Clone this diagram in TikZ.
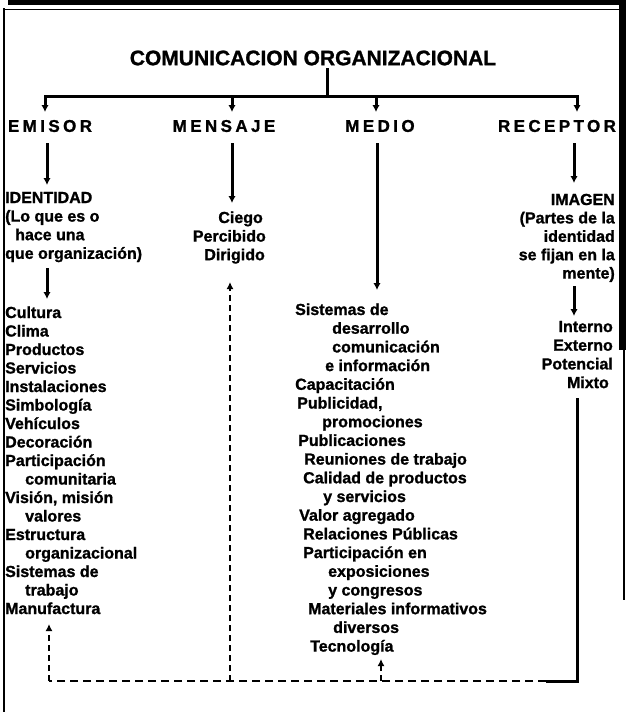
\documentclass[tikz,border=0pt]{standalone}
\usepackage{fontspec}
\setmainfont{Liberation Sans}[BoldFeatures={FakeBold=1.2}]
\usetikzlibrary{arrows.meta}
\begin{document}
\begin{tikzpicture}[x=1pt,y=-1pt,
  txt/.style={inner sep=0pt,font=\fontsize{16}{18.5}\selectfont\bfseries},
  lab/.style={inner sep=0pt,font=\fontsize{17}{18}\selectfont\bfseries\addfontfeature{LetterSpace=20}},
  ttl/.style={inner sep=0pt,font=\fontsize{21}{24}\selectfont\bfseries},
  ln/.style={line width=3pt},
  arr/.style={ln,-{Latex[length=7pt,width=7.5pt]}},
  dsh/.style={line width=2pt,dash pattern=on 8pt off 5pt},
  vdsh/.style={line width=1.4pt,dash pattern=on 6pt off 4pt,-{Latex[length=7pt,width=7pt]}}]
\useasboundingbox (0,0) rectangle (626,712);
% frame
\fill (8,0) rectangle (626,5);
\draw[line width=1pt] (4,9) -- (619,9);
\draw[line width=1.8pt] (4,8) -- (4,712);
\fill (619,0) rectangle (626,350);
\draw[line width=1.5pt] (624,350) -- (624,600);
% title
\node[ttl] (title) at (313,58) {COMUNICACION ORGANIZACIONAL};
\coordinate (stemT) at (327,68);
\coordinate (stemB) at (327,96);
\coordinate (bL) at (45,96);
\coordinate (bR) at (577,96);
\coordinate (bM1) at (232,96);
\coordinate (bM2) at (376,96);
\draw[ln] (stemT) -- (stemB);
\draw[ln,line cap=rect] (bL) -- (bR);
% labels
\node[lab] (emisor) at (50,126) {EMISOR};
\node[lab] (mensaje) at (224,126) {MENSAJE};
\node[lab] (medio) at (380,126) {MEDIO};
\node[lab] (receptor) at (557,126) {RECEPTOR};
\coordinate (tE) at (45,112);
\coordinate (tM1) at (232,112);
\coordinate (tM2) at (376,112);
\coordinate (tR) at (577,112);
\draw[arr] (bL) -- (tE);
\draw[arr] (bM1) -- (tM1);
\draw[arr] (bM2) -- (tM2);
\draw[arr] (bR) -- (tR);
% EMISOR column
\foreach \x/\t [count=\i from 0] in {5/IDENTIDAD,5/{(Lo que es o},15/{hace una},5/{que organización)}}
  \node[txt,anchor=base west] (id\i) at (\x,203+18.6*\i) {\t};
\foreach \x/\t [count=\i from 0] in {5/Cultura,5/Clima,5/Productos,5/Servicios,5/Instalaciones,5/Simbología,5/Vehículos,5/Decoración,5/Participación,25/comunitaria,5/{Visión, misión},25/valores,5/Estructura,25/organizacional,5/{Sistemas de},25/trabajo,5/Manufactura}
  \node[txt,anchor=base west] (em\i) at (\x,318+18.5*\i) {\t};
\coordinate (eA) at (47,143);
\coordinate (eB) at (47,185);
\draw[arr] (eA) -- (eB);
\coordinate (iA) at (47,268);
\coordinate (iB) at (47,299);
\draw[arr] (iA) -- (iB);
% MENSAJE column
\node[txt,anchor=base east] (ms1) at (263,223) {Ciego};
\node[txt,anchor=base east] (ms2) at (266,241.6) {Percibido};
\node[txt,anchor=base east] (ms3) at (265,260.2) {Dirigido};
\coordinate (mA) at (232,143);
\coordinate (mB) at (232,203);
\draw[arr] (mA) -- (mB);
% MEDIO column
\foreach \x/\t [count=\i from 0] in {295/{Sistemas de},332/desarrollo,332/comunicación,325/{e información},295/Capacitación,297/{Publicidad,},322/promociones,298/Publicaciones,304/{Reuniones de trabajo},303/{Calidad de productos},323/{y servicios},299/{Valor agregado},303/{Relaciones Públicas},303/{Participación en},328/exposiciones,328/{y congresos},308/{Materiales informativos},333/diversos,310/Tecnología}
  \node[txt,anchor=base west] (md\i) at (\x,315+18.7*\i) {\t};
\coordinate (dA) at (377,143);
\coordinate (dB) at (377,290);
\draw[arr] (dA) -- (dB);
% RECEPTOR column
\foreach \t [count=\i from 0] in {IMAGEN,{(Partes de la},identidad,{se fijan en la},mente)}
  \node[txt,anchor=base east] (im\i) at (615,205+18.4*\i) {\t};
\node[txt,anchor=base east] (rc1) at (613,332) {Interno};
\node[txt,anchor=base east] (rc2) at (613,350.7) {Externo};
\node[txt,anchor=base east] (rc3) at (613,369.4) {Potencial};
\node[txt,anchor=base east] (rc4) at (609,388.1) {Mixto};
\coordinate (rA) at (574,143);
\coordinate (rB) at (574,183);
\draw[arr] (rA) -- (rB);
\coordinate (gA) at (574,286);
\coordinate (gB) at (574,316);
\draw[arr] (gA) -- (gB);
% return loop
\coordinate (xA) at (577,398);
\coordinate (xB) at (577,681);
\coordinate (xC) at (546,681);
\coordinate (xD) at (49,681);
\coordinate (xE) at (49,624);
\coordinate (yA) at (230,681);
\coordinate (yB) at (230,282);
\coordinate (zA) at (381,681);
\coordinate (zB) at (381,659);
\draw[ln,line join=miter] (xA) -- (xB) -- (xC);
\draw[dsh] (xC) -- (xD);
\draw[vdsh,line width=1.8pt] (xD) -- (xE);
\draw[vdsh] (yA) -- (yB);
\draw[vdsh] (zA) -- (zB);
\end{tikzpicture}
\end{document}
